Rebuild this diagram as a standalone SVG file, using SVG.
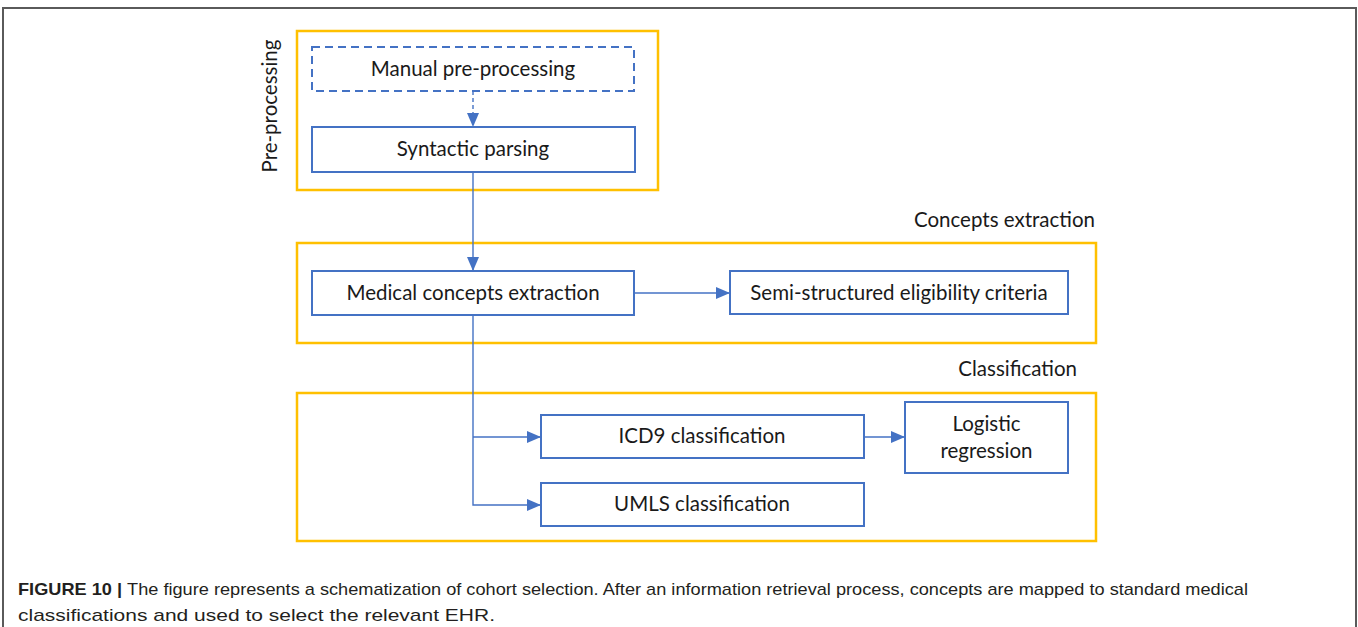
<svg xmlns="http://www.w3.org/2000/svg" width="1358" height="627" viewBox="0 0 1358 627">
  <style>
    .frame { fill: none; stroke: #5a5a5a; stroke-width: 2; }
    .group { fill: none; stroke: #FFC000; stroke-width: 2.5; }
    .box { fill: #ffffff; stroke: #4472C4; stroke-width: 2; }
    .dbox { fill: #ffffff; stroke: #4472C4; stroke-width: 2; stroke-dasharray: 8 5; }
    .lbl { font-family: Lato, "Open Sans", sans-serif; font-size: 20.5px; fill: #1a1a1a; text-anchor: middle; }
    .glbl { font-family: Lato, "Open Sans", sans-serif; font-size: 20.5px; fill: #1a1a1a; }
    .conn { fill: none; stroke: #4472C4; stroke-width: 1.4; }
    .cap { font-family: "Liberation Sans", Arial, sans-serif; font-size: 17px; fill: #231f20; }
  </style>
  <defs>
    <marker id="arr" markerUnits="userSpaceOnUse" markerWidth="14" markerHeight="14" viewBox="0 0 14 14" refX="14" refY="7" orient="auto">
      <path d="M0,1 L14,7 L0,13 Z" fill="#4472C4"/>
    </marker>
  </defs>
  <rect width="1358" height="627" fill="#ffffff"/>
  <path class="frame" d="M3,627 V8 H1356 V627"/>

  <g id="group-preprocessing">
    <rect class="group" x="297" y="31" width="361" height="159"/>
    <text class="glbl" transform="translate(277,106) rotate(-90)" text-anchor="middle">Pre-processing</text>
  </g>
  <g id="group-concepts">
    <rect class="group" x="297" y="243" width="799" height="100"/>
    <text class="glbl" x="1095" y="227" text-anchor="end">Concepts extraction</text>
  </g>
  <g id="group-classification">
    <rect class="group" x="297" y="393" width="799" height="148"/>
    <text class="glbl" x="1077" y="376" text-anchor="end">Classification</text>
  </g>

  <g id="connectors">
    <path class="conn" d="M473,91 V127" stroke-dasharray="4 3" marker-end="url(#arr)"/>
    <path class="conn" d="M473,172 V271" marker-end="url(#arr)"/>
    <path class="conn" d="M634,293 H730" marker-end="url(#arr)"/>
    <path class="conn" d="M473,315 V505 H541" marker-end="url(#arr)"/>
    <path class="conn" d="M473,437 H541" marker-end="url(#arr)"/>
    <path class="conn" d="M864,437 H905" marker-end="url(#arr)"/>
  </g>

  <g id="node-manual">
    <rect class="dbox" x="312" y="47" width="322" height="44"/>
    <text class="lbl" x="473" y="76">Manual pre-processing</text>
  </g>
  <g id="node-syntactic">
    <rect class="box" x="312" y="127" width="323" height="45"/>
    <text class="lbl" x="473" y="156">Syntactic parsing</text>
  </g>
  <g id="node-medical">
    <rect class="box" x="312" y="271" width="322" height="44"/>
    <text class="lbl" x="473" y="300">Medical concepts extraction</text>
  </g>
  <g id="node-semi">
    <rect class="box" x="730" y="271" width="338" height="43"/>
    <text class="lbl" x="899" y="300">Semi-structured eligibility criteria</text>
  </g>
  <g id="node-icd9">
    <rect class="box" x="541" y="415" width="323" height="43"/>
    <text class="lbl" x="702" y="443">ICD9 classification</text>
  </g>
  <g id="node-logistic">
    <rect class="box" x="905" y="402" width="163" height="71"/>
    <text class="lbl" x="986.5" y="431">Logistic</text>
    <text class="lbl" x="986.5" y="458">regression</text>
  </g>
  <g id="node-umls">
    <rect class="box" x="541" y="483" width="323" height="43"/>
    <text class="lbl" x="702" y="511">UMLS classification</text>
  </g>

  <g id="caption">
    <text class="cap" x="18" y="595" textLength="1230" lengthAdjust="spacingAndGlyphs"><tspan font-weight="bold">FIGURE 10 | </tspan>The figure represents a schematization of cohort selection. After an information retrieval process, concepts are mapped to standard medical</text>
    <text class="cap" x="18" y="621" textLength="477" lengthAdjust="spacingAndGlyphs">classifications and used to select the relevant EHR.</text>
  </g>
</svg>
